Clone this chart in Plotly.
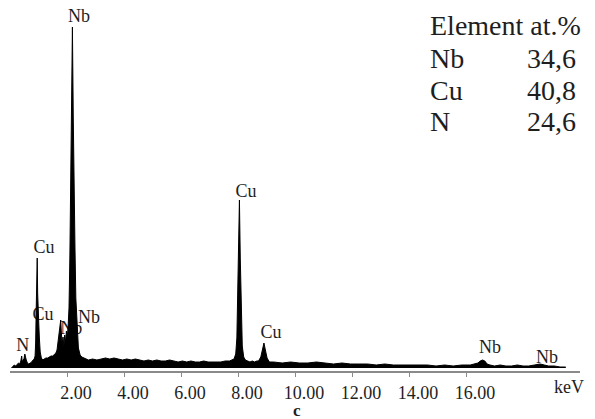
import plotly.graph_objects as go

# ---- spectrum data (energy in keV, counts in arbitrary units) ----
energy = [
    0.05, 0.10, 0.15, 0.20, 0.25, 0.30, 0.34, 0.38, 0.41, 0.43, 0.46, 0.49, 0.52, 0.54, 0.57,
    0.61, 0.66, 0.71, 0.76, 0.81, 0.85, 0.88, 0.90, 0.92, 0.94, 0.955, 0.97, 0.99, 1.01, 1.03,
    1.06, 1.10, 1.15, 1.20, 1.26, 1.32, 1.38, 1.44, 1.50, 1.56, 1.61, 1.65, 1.69, 1.72, 1.75,
    1.78, 1.80, 1.83, 1.86, 1.89, 1.92, 1.95, 1.98, 2.01, 2.04, 2.07, 2.10, 2.13, 2.16, 2.19,
    2.22, 2.25, 2.28, 2.31, 2.35, 2.40, 2.46, 2.52,
    2.60, 2.75, 2.90, 3.05, 3.20, 3.35, 3.50, 3.65, 3.80, 3.95, 4.10, 4.25, 4.40, 4.55, 4.70,
    4.85, 5.00, 5.15, 5.30, 5.45, 5.60, 5.75, 5.90, 6.05, 6.20, 6.35, 6.50, 6.65, 6.80, 6.95,
    7.10, 7.25, 7.40, 7.55, 7.70,
    7.86, 7.92, 7.96, 8.00, 8.03, 8.05, 8.08, 8.11, 8.15, 8.20, 8.26, 8.34, 8.42, 8.50, 8.58,
    8.66, 8.72, 8.80, 8.86, 8.91, 8.96, 9.02, 9.10,
    9.25, 9.55, 9.85, 10.15, 10.45, 10.75, 11.05, 11.35, 11.65, 11.95, 12.25, 12.55, 12.85,
    13.15, 13.45, 13.75, 14.05, 14.35, 14.65, 14.95, 15.25, 15.55, 15.85, 16.15,
    16.32, 16.42, 16.50, 16.58, 16.66, 16.74, 16.84,
    17.0, 17.2, 17.4, 17.6, 17.8, 18.0, 18.2, 18.4, 18.6, 18.75, 18.9, 19.1, 19.3, 19.5,
]
counts = [
    0, 2, 3, 2, 4, 5, 4, 7, 12, 6, 8, 9, 14, 10, 8,
    5, 4, 5, 6, 8, 9, 12, 25, 60, 100, 110, 75, 48, 44, 30,
    16, 10, 8, 9, 10, 10, 11, 12, 12, 14, 15, 18, 26, 34, 42,
    48, 36, 24, 31, 22, 33, 26, 37, 30, 42, 60, 110, 200, 300, 341,
    250, 160, 120, 70, 40, 20, 13, 11,
    10, 8, 9, 8, 9, 10, 9, 10, 9, 8, 9, 8, 9, 8, 7,
    8, 7, 8, 7, 7, 8, 7, 6, 7, 6, 7, 6, 6, 7, 6,
    6, 6, 6, 7, 7,
    9, 14, 30, 80, 140, 168, 110, 55, 22, 11, 8, 7, 6, 7, 6,
    7, 7, 11, 19, 25, 18, 10, 6,
    6, 5, 6, 5, 5, 6, 5, 4, 5, 4, 4, 4, 3,
    4, 3, 3, 3, 3, 3, 2, 3, 2, 3, 3,
    4, 5, 7, 8, 7, 4, 3,
    2, 3, 2, 2, 3, 2, 2, 3, 4, 3, 2, 2, 1, 1,
]

# ---- peak labels ----
peak_labels = ["Nb", "Cu", "Cu", "N", "Nb", "Nb", "Cu", "Cu", "Nb", "Nb"]
peak_label_x = [2.42, 1.19, 1.16, 0.45, 2.15, 2.77, 8.28, 9.16, 16.84, 18.84]
peak_label_y = [351, 120, 53, 22, 39, 50, 176, 35, 20, 10]

# ---- axis ticks ----
tick_values = [2, 4, 6, 8, 10, 12, 14, 16]
tick_labels = ["2.00", "4.00", "6.00", "8.00", "10.00", "12.00", "14.00", "16.00"]
axis_unit = "keV"
panel_label = "c"

# ---- composition table ----
table_header = "Element at.%"
elements = ["Nb", "Cu", "N"]
at_percent = ["34,6", "40,8", "24,6"]

FONT = "Liberation Serif"
TXT = "#1e1e1e"

fig = go.Figure()

# labels drawn first so the spectrum fill sits on top of them (as in the original)
fig.add_trace(go.Scatter(
    x=peak_label_x, y=peak_label_y, text=peak_labels, mode="text",
    textposition="middle center",
    textfont=dict(family=FONT, size=18, color=TXT),
    hoverinfo="skip", showlegend=False, cliponaxis=False,
))

fig.add_trace(go.Scatter(
    x=energy, y=counts, mode="lines", fill="tozeroy",
    line=dict(color="black", width=1), fillcolor="black",
    hoverinfo="skip", showlegend=False,
))

annotations = []
row_y = [0.867, 0.778, 0.690]
annotations.append(dict(xref="paper", yref="paper", x=0.733, y=0.958, text=table_header,
                        showarrow=False, xanchor="left", yanchor="middle",
                        font=dict(family=FONT, size=28, color=TXT)))
for name, val, yy in zip(elements, at_percent, row_y):
    annotations.append(dict(xref="paper", yref="paper", x=0.733, y=yy, text=name,
                            showarrow=False, xanchor="left", yanchor="middle",
                            font=dict(family=FONT, size=28, color=TXT)))
    annotations.append(dict(xref="paper", yref="paper", x=0.996, y=yy, text=val,
                            showarrow=False, xanchor="right", yanchor="middle",
                            font=dict(family=FONT, size=28, color=TXT)))
annotations.append(dict(xref="x", yref="paper", x=19.6, y=0, yshift=-16, text=axis_unit,
                        showarrow=False, xanchor="center", yanchor="middle",
                        font=dict(family=FONT, size=18, color=TXT)))
annotations.append(dict(xref="x", yref="paper", x=10.07, y=0, yshift=-39,
                        text="<b>" + panel_label + "</b>", borderpad=0,
                        showarrow=False, xanchor="center", yanchor="middle",
                        font=dict(family=FONT, size=17, color=TXT)))

fig.update_layout(
    width=595, height=419, autosize=False,
    margin=dict(l=10, r=15, t=10, b=48),
    paper_bgcolor="white", plot_bgcolor="white",
    font=dict(family=FONT, size=18, color=TXT),
    annotations=annotations,
    xaxis=dict(
        range=[0, 20], tickmode="array", tickvals=tick_values, ticktext=tick_labels,
        showgrid=False, zeroline=False, showline=True, linecolor="#8a8a8a", linewidth=2,
        ticks="outside", ticklen=4, tickcolor="#8a8a8a", tickwidth=1,
        ticklabelshift=9, tickfont=dict(family=FONT, size=18, color=TXT),
    ),
    yaxis=dict(range=[-3, 358], visible=False, showgrid=False, zeroline=False),
)

fig.write_html("out.html", config={"displayModeBar": False},
               post_script="document.body.style.margin='0';")
